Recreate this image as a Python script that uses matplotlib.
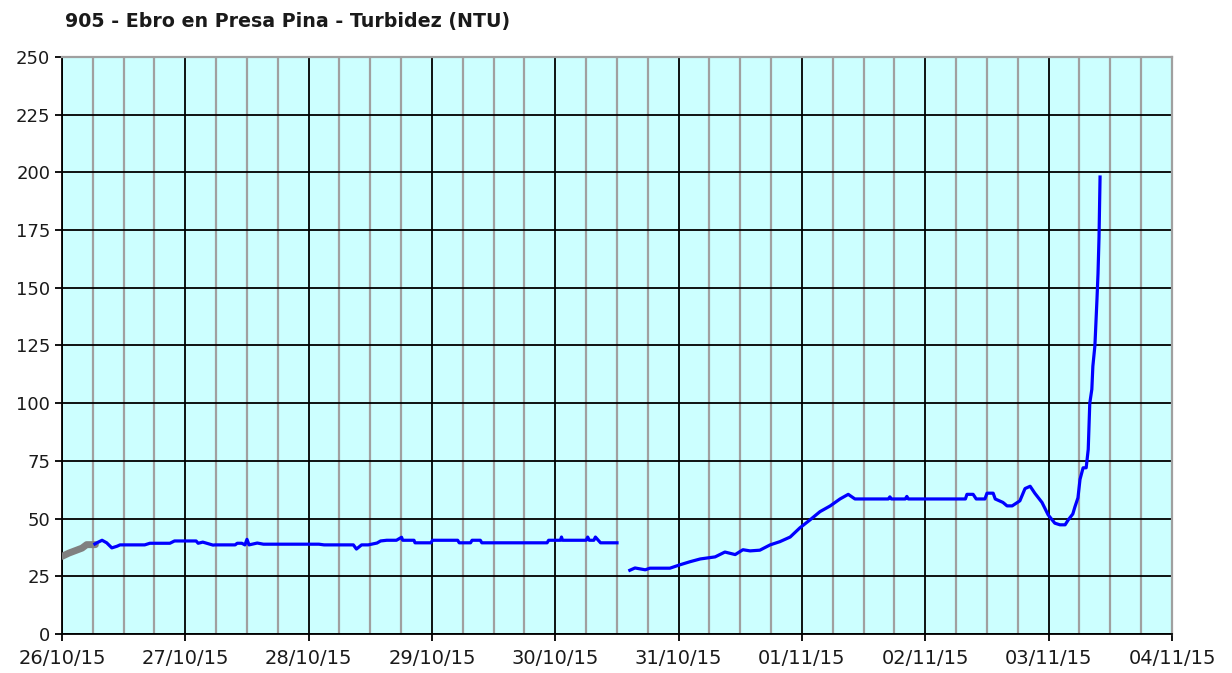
import matplotlib
matplotlib.use("Agg")
import matplotlib.pyplot as plt
import matplotlib.dates as mdates
import numpy as np

# turbidity readings, hours after 26/10/15 00:00
gray_hours = [0.0, 1.3, 3.9, 4.8, 6.5]
gray_ntu = [33.6, 35.0, 37.2, 38.7, 38.7]

seg1_hours = [6.4, 6.8, 7.8, 8.7, 9.7, 10.7, 11.3, 16.1, 17.1, 21.0, 21.9, 26.1,
              26.5, 27.4, 29.4, 29.8, 33.7, 34.1, 35.0, 35.6, 36.0, 36.4, 38.0,
              39.2, 39.6, 50.0, 51.0, 56.7, 57.3, 58.3, 59.6, 61.3, 62.0, 63.2,
              65.1, 66.1, 66.3, 68.5, 68.7, 71.8, 72.1, 77.0, 77.3, 79.5, 79.8,
              81.4, 81.7, 94.4, 94.7, 97.0, 97.2, 97.4, 102.0, 102.3, 102.6,
              103.5, 103.8, 104.8, 108.0]
seg1_ntu = [39.0, 39.5, 40.6, 39.5, 37.3, 38.0, 38.6, 38.6, 39.3, 39.3, 40.3, 40.3,
            39.3, 39.8, 38.5, 38.6, 38.6, 39.3, 39.3, 38.6, 41.0, 38.6, 39.4,
            38.9, 38.9, 38.9, 38.6, 38.6, 36.8, 38.6, 38.6, 39.4, 40.3, 40.6,
            40.6, 41.9, 40.6, 40.6, 39.5, 39.5, 40.6, 40.6, 39.5, 39.5, 40.6,
            40.6, 39.5, 39.5, 40.6, 40.6, 42.0, 40.6, 40.6, 42.0, 40.6,
            40.6, 42.0, 39.5, 39.5]

seg2_hours = [110.5, 111.5, 113.5, 114.4, 118.3, 120.3, 122.2, 124.2, 127.1, 129.0,
              131.0, 132.5, 133.9, 135.8, 137.8, 139.7, 141.7, 143.6, 145.6, 147.5,
              149.5, 151.4, 153.0, 154.3, 160.8, 161.1, 161.4, 164.1, 164.4, 164.7,
              175.8, 176.1, 177.3, 177.9, 179.6, 180.0, 181.2, 181.6, 183.1, 183.9,
              184.9, 186.4, 187.4, 188.4, 189.3, 190.7, 191.9, 193.2, 194.2, 195.2,
              195.8, 196.7, 197.1, 197.7, 198.1, 198.7, 199.3, 199.5, 199.7, 200.0,
              200.4, 200.6, 201.0, 201.4, 201.6, 201.8, 202.0]
seg2_ntu = [27.6, 28.6, 27.8, 28.5, 28.5, 30.0, 31.3, 32.5, 33.4, 35.5,
            34.4, 36.5, 36.0, 36.3, 38.6, 40.0, 42.0, 46.0, 49.5, 53.0,
            55.5, 58.5, 60.5, 58.5, 58.5, 59.4, 58.5, 58.5, 59.6, 58.5,
            58.5, 60.5, 60.5, 58.5, 58.5, 61.0, 61.0, 58.5, 57.0, 55.5,
            55.5, 57.7, 63.0, 64.0, 61.0, 57.0, 51.6, 48.0, 47.3, 47.3,
            49.4, 52.0, 55.0, 59.0, 67.0, 72.0, 72.0, 76.0, 80.0, 100.0,
            106.0, 116.0, 125.0, 145.0, 156.0, 172.0, 198.0]

t0 = np.datetime64("2015-10-26T00:00")


def to_time(hours):
    return t0 + (np.array(hours) * 60).astype("timedelta64[m]")


fig = plt.figure(figsize=(12.32, 6.73), dpi=100)
ax = fig.add_axes([0.0503, 0.058, 0.901, 0.8573])
ax.set_facecolor("#ccffff")

ax.plot(to_time(gray_hours), gray_ntu, color="#808080", lw=5,
        solid_capstyle="round", zorder=3)
ax.plot(to_time(seg1_hours), seg1_ntu, color="#0000ff", lw=2.3, zorder=4)
ax.plot(to_time(seg2_hours), seg2_ntu, color="#0000ff", lw=2.3, zorder=4)

ax.set_xlim(np.datetime64("2015-10-26T00:00"), np.datetime64("2015-11-04T00:00"))
ax.set_ylim(0, 250)
ax.set_yticks(np.arange(0, 251, 25))

ax.xaxis.set_major_locator(mdates.DayLocator())
ax.xaxis.set_minor_locator(mdates.HourLocator(byhour=[6, 12, 18]))
ax.xaxis.set_major_formatter(mdates.DateFormatter("%d/%m/%y"))

ax.grid(True, which="minor", axis="x", color="#a0a0a0", lw=1.6, zorder=1)
ax.grid(True, which="major", axis="x", color="black", lw=1.3, zorder=2)
ax.grid(True, which="major", axis="y", color="black", lw=1.3, zorder=2)
ax.set_axisbelow(True)

ax.tick_params(axis="both", which="major", direction="out", length=5, width=1.3,
               colors="black", labelcolor="#1a1a1a")
ax.tick_params(axis="y", labelsize=13)
ax.tick_params(axis="x", labelsize=14, pad=6)
ax.tick_params(axis="x", which="minor", length=0)

for side in ("left", "bottom"):
    ax.spines[side].set_color("black")
    ax.spines[side].set_linewidth(1.3)
for side in ("top", "right"):
    ax.spines[side].set_color("#a0a0a0")
    ax.spines[side].set_linewidth(1.6)

fig.text(0.053, 0.968, "905 - Ebro en Presa Pina - Turbidez (NTU)",
         fontsize=13.7, fontweight="bold", color="#1a1a1a", va="center", ha="left")

fig.savefig("out.png", dpi=100)
